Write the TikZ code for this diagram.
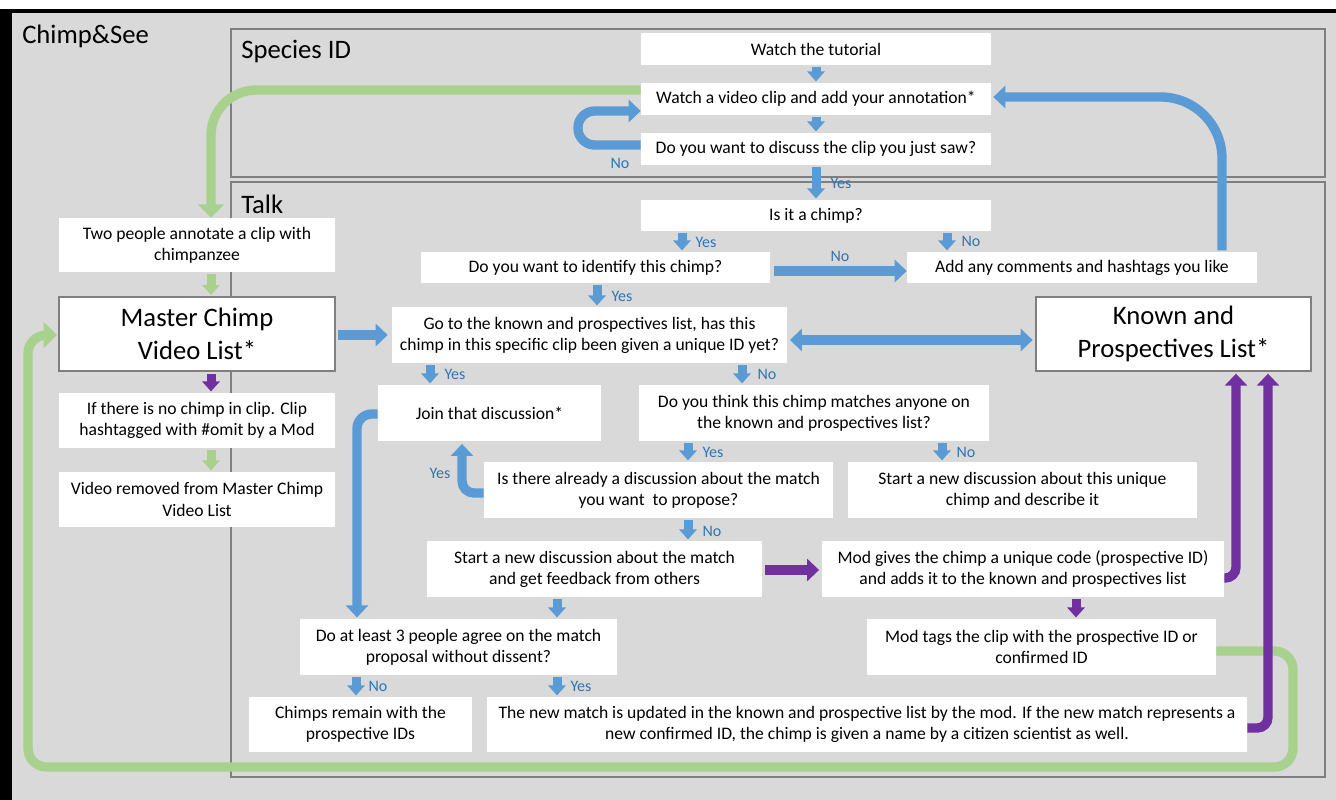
\documentclass[tikz,border=0pt]{standalone}
\usepackage{fontspec}
\setmainfont{Carlito}
\usetikzlibrary{arrows.meta}
\definecolor{bgray}{HTML}{D9D9D9}
\definecolor{pgray}{HTML}{7F7F7F}
\definecolor{ablue}{HTML}{5B9BD5}
\definecolor{lblue}{HTML}{2E75B6}
\definecolor{agreen}{HTML}{A9D18E}
\definecolor{apurple}{HTML}{7030A0}
\newcommand{\mybox}[7][box]{\node[#1, minimum width={(#5-#3)*0.75pt}, minimum height={(#6-#4)*0.75pt}] (#2) at ({(#3+#5)/2},{(#4+#6)/2}) {#7};}
\begin{document}
\begin{tikzpicture}[x=0.75pt,y=-0.75pt,
  box/.style={fill=white, inner sep=0pt, align=center, font=\fontsize{13.2}{15.9}\selectfont},
  bigbox/.style={box, draw=pgray, line width=1pt, font=\fontsize{20}{25}\selectfont},
  panel/.style={draw=pgray, line width=1.1pt},
  title/.style={anchor=base west, inner sep=0pt, font=\fontsize{20}{24}\selectfont},
  sarr/.style={line width=6.75pt, -{Triangle[width=13pt,length=7.5pt]}, shorten <=1.5pt, shorten >=1pt},
  barr/.style={line width=7pt, -{Triangle[width=16.5pt,length=9pt]}},
  garr/.style={line width=7pt, -{Triangle[width=19pt,length=10pt]}},
  lab/.style={text=lblue, font=\fontsize{12}{14}\selectfont, inner sep=0pt},
]
\useasboundingbox (0,0) rectangle (1336,800);
% background and frame
\fill[white] (0,0) rectangle (1336,800);
\fill[black] (0,9) rectangle (1336,800);
\fill[bgray] (12,13) rectangle (1336,800);
% panels
\draw[panel] (231,29) rectangle (1325,177);
\draw[panel] (231,182) rectangle (1325,777);
\node[title] (tcs) at (22,43) {Chimp\&See};
\node[title] (tsp) at (241,58) {Species ID};
\node[title] (ttk) at (241,213) {Talk};
% boxes
\mybox{tut}{641}{33}{991}{65}{Watch the tutorial}
\mybox{watch}{641}{83}{991}{115}{Watch a video clip and add your annotation*}
\mybox{discuss}{641}{133}{991}{165}{Do you want to discuss the clip you just saw?}
\mybox{ischimp}{641}{200}{991}{231}{Is it a chimp?}
\mybox{identify}{421}{252}{770}{283}{Do you want to identify this chimp?}
\mybox{add}{907}{252}{1257}{283}{Add any comments and hashtags you like}
\mybox{two}{59}{218}{335}{272}{Two people annotate a clip with\\chimpanzee}
\mybox[bigbox]{master}{59}{297}{335}{371}{Master Chimp\\Video List*}
\mybox{ifno}{59}{393}{335}{448}{If there is no chimp in clip. Clip\\hashtagged with \#omit by a Mod}
\mybox{removed}{59}{472}{335}{527}{Video removed from Master Chimp\\Video List}
\mybox{goto}{392}{307}{787}{363}{Go to the known and prospectives list, has this\\chimp in this specific clip been given a unique ID yet?}
\mybox[bigbox]{known}{1036}{297}{1311}{371}{Known and\\Prospectives List*}
\mybox{join}{378}{385}{601}{441}{Join that discussion*}
\mybox{think}{639}{385}{989}{441}{Do you think this chimp matches anyone on\\the known and prospectives list?}
\mybox{isthere}{484}{462}{833}{518}{Is there already a discussion about the match\\you want\ \ to propose?}
\mybox{unique}{848}{462}{1197}{518}{Start a new discussion about this unique\\chimp and describe it}
\mybox{startm}{427}{541}{762}{597}{Start a new discussion about the match\\and get feedback from others}
\mybox{modgives}{822}{541}{1224}{597}{Mod gives the chimp a unique code (prospective ID)\\and adds it to the known and prospectives list}
\mybox{atleast}{300}{619}{617}{675}{Do at least 3 people agree on the match\\proposal without dissent?}
\mybox{modtags}{867}{619}{1216}{675}{Mod tags the clip with the prospective ID or\\confirmed ID}
\mybox{remain}{249}{697}{472}{752}{Chimps remain with the\\prospective IDs}
\mybox{newm}{487}{697}{1247}{752}{The new match is updated in the known and prospective list by the mod. If the new match represents a\\new confirmed ID, the chimp is given a name by a citizen scientist as well.}
% green connectors
\draw[garr,agreen,rounded corners=34pt] (watch.west |- 0,90) -- (211,90) -- (two.north -| 211,0);
\draw[garr,agreen,rounded corners=14pt,shorten >=1pt] (modtags.east |- 0,651) -- (1293,651) -- (1293,767) -- (28,767) -- (28,335) -- (master.west |- 0,335);
\draw[sarr,agreen] (two.south -| 211,0) -- (master.north -| 211,0);
\draw[sarr,agreen] (ifno.south -| 211,0) -- (removed.north -| 211,0);
% purple connectors
\draw[sarr,apurple] (master.south -| 211,0) -- (ifno.north -| 211,0);
\draw[sarr,apurple] (modgives.south -| 1076,0) -- (modtags.north -| 1076,0);
\draw[barr,apurple,shorten <=2pt,shorten >=2pt] (startm.east |- 0,570) -- (modgives.west |- 0,570);
\draw[barr,apurple,rounded corners=8pt,shorten >=1.5pt] (modgives.east |- 0,578) -- (1236,578) -- (known.south -| 1236,0);
\draw[barr,apurple,rounded corners=8pt,shorten >=1.5pt] (newm.east |- 0,728) -- (1268,728) -- (known.south -| 1268,0);
% blue small arrows
\draw[sarr,ablue] (tut.south) -- (watch.north);
\draw[sarr,ablue] (watch.south) -- (discuss.north);
\draw[sarr,ablue] (discuss.south) -- (ischimp.north);
\draw[sarr,ablue] (ischimp.south -| 682,0) -- (identify.north -| 682,0);
\draw[sarr,ablue] (ischimp.south -| 947,0) -- (add.north -| 947,0);
\draw[sarr,ablue] (identify.south -| 597,0) -- (goto.north -| 597,0);
\draw[sarr,ablue] (goto.south -| 430,0) -- (join.north -| 430,0);
\draw[sarr,ablue] (goto.south -| 742,0) -- (think.north -| 742,0);
\draw[sarr,ablue] (think.south -| 688,0) -- (isthere.north -| 688,0);
\draw[sarr,ablue] (think.south -| 942,0) -- (unique.north -| 942,0);
\draw[sarr,ablue] (isthere.south -| 688,0) -- (startm.north -| 688,0);
\draw[sarr,ablue] (startm.south -| 557,0) -- (atleast.north -| 557,0);
\draw[sarr,ablue] (atleast.south -| 356,0) -- (remain.north -| 356,0);
\draw[sarr,ablue] (atleast.south -| 557,0) -- (newm.north -| 557,0);
% blue long arrows
\draw[barr,ablue,shorten <=3pt] (identify.east |- 0,271) -- (add.west |- 0,271);
\draw[barr,ablue,shorten <=2pt,shorten >=3pt] (master.east |- 0,335) -- (goto.west |- 0,335);
\draw[line width=7pt,ablue,{Triangle[width=16.5pt,length=9pt]}-{Triangle[width=16.5pt,length=9pt]},shorten <=2pt,shorten >=2pt] (goto.east |- 0,340) -- (known.west |- 0,340);
\draw[barr,ablue,rounded corners=12.5pt] (discuss.west |- 0,145) -- (578,145) -- (578,111) -- (watch.west |- 0,111);
\draw[barr,ablue,rounded corners=46pt,shorten <=1pt,shorten >=1.5pt] (add.north -| 1222,0) -- (1222,97) -- (watch.east |- 0,97);
\draw[barr,ablue,rounded corners=11pt,shorten >=1pt] (join.west |- 0,414) -- (357,414) -- (atleast.north -| 357,0);
\draw[barr,ablue,rounded corners=9pt,shorten >=2pt] (isthere.west |- 0,493) -- (462,493) -- (join.south -| 462,0);
% labels
\node[lab] (l1) at (841,183) {Yes};
\node[lab] (l2) at (706,242) {Yes};
\node[lab] (l3) at (971,241) {No};
\node[lab] (l4) at (840,256) {No};
\node[lab] (l5) at (622,296) {Yes};
\node[lab] (l6) at (455,374) {Yes};
\node[lab] (l7) at (767,374) {No};
\node[lab] (l8) at (713,452) {Yes};
\node[lab] (l9) at (966,452) {No};
\node[lab] (l10) at (440,473) {Yes};
\node[lab] (l11) at (712,531) {No};
\node[lab] (l12) at (378,686) {No};
\node[lab] (l13) at (581,686) {Yes};
\node[lab] (l14) at (620,163) {No};
\end{tikzpicture}
\end{document}
